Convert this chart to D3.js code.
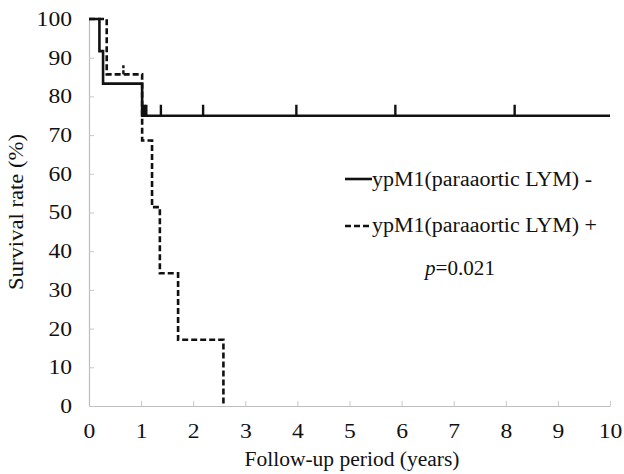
<!DOCTYPE html>
<html>
<head>
<meta charset="utf-8">
<script src="https://cdn.jsdelivr.net/npm/d3@7"></script>
<style>
  body { margin: 0; background: #fff; }
</style>
</head>
<body>
<svg id="chart" width="624" height="474"></svg>
<script>
// step curves (time in years, survival %)
const negTimes = [0, 0.2, 0.27, 1.02, 10]
const negSurv = [100, 91.7, 83.3, 75, 75]
const negCensor = [1.04, 1.07, 1.1, 1.38, 2.19, 3.98, 5.88, 8.17]

const posTimes = [0, 0.34, 1.02, 1.21, 1.36, 1.71, 2.58]
const posSurv = [100, 85.7, 68.6, 51.4, 34.3, 17.1, 0]
const posCensor = [0.66]

const xTicks = [0, 1, 2, 3, 4, 5, 6, 7, 8, 9, 10]
const yTicks = [0, 10, 20, 30, 40, 50, 60, 70, 80, 90, 100]

const FONT = "'Liberation Serif', 'Times New Roman', serif"

const svg = d3.select('#chart')
    .style('font-family', FONT)

const x = d3.scaleLinear().domain([0, 10]).range([89, 610])
const y = d3.scaleLinear().domain([0, 100]).range([406, 19])

//text in the source is a bit wider than Times, stretch it horizontally
const stretch = (sel, k) => sel.attr('textLength', function () { return this.getComputedTextLength() * k })
    .attr('lengthAdjust', 'spacingAndGlyphs')

// axes
const xAxis = svg.append('g')
    .attr('transform', `translate(0, ${y(0)})`)
    .call(d3.axisBottom(x).tickValues(xTicks).tickSizeInner(-5).tickSizeOuter(0).tickPadding(18))
const yAxis = svg.append('g')
    .attr('transform', `translate(${x(0)}, 0)`)
    .call(d3.axisLeft(y).tickValues(yTicks).tickSizeInner(-5).tickSizeOuter(0).tickPadding(17))

;[xAxis, yAxis].forEach(a => {
    a.attr('font-family', null).attr('font-size', null)
    a.select('.domain').attr('stroke', '#bdbdbd').attr('stroke-width', 1.2)
    a.selectAll('.tick line').attr('stroke', '#c8c8c8')
    a.selectAll('.tick text')
        .style('font-family', FONT)
        .style('font-size', '20px')
        .attr('fill', '#111')
        .call(stretch, 1.18)
})

//axis titles
svg.append('text')
    .attr('x', 352)
    .attr('y', 466)
    .style('font-family', FONT)
    .style('font-size', '20px')
    .attr('text-anchor', 'middle')
    .attr('fill', '#111')
    .attr('textLength', 215)
    .attr('lengthAdjust', 'spacingAndGlyphs')
    .text('Follow-up period (years)')

svg.append('text')
    .attr('transform', 'translate(23, 212) rotate(-90)')
    .style('font-family', FONT)
    .style('font-size', '20px')
    .attr('text-anchor', 'middle')
    .attr('fill', '#111')
    .attr('textLength', 156)
    .attr('lengthAdjust', 'spacingAndGlyphs')
    .text('Survival rate (%)')

// curves
const line = d3.line()
    .x(d => x(d[0]))
    .y(d => y(d[1]))
    .curve(d3.curveStepAfter)

const negData = negTimes.map((t, i) => [t, negSurv[i]])
const posData = posTimes.map((t, i) => [t, posSurv[i]])

svg.append('path')
    .datum(posData)
    .attr('fill', 'none')
    .attr('stroke', '#111')
    .attr('stroke-width', 2.6)
    .attr('stroke-dasharray', '6,3')
    .attr('d', line)

svg.append('path')
    .datum(negData)
    .attr('fill', 'none')
    .attr('stroke', '#111')
    .attr('stroke-width', 2.6)
    .attr('d', line)

// censor marks
const survAt = (times, surv, t) => {
    let s = surv[0]
    times.forEach((tt, i) => { if (tt <= t) s = surv[i] })
    return s
}

svg.selectAll('.cens-neg')
    .data(negCensor)
    .enter().append('line')
    .attr('class', 'cens-neg')
    .attr('x1', d => x(d)).attr('x2', d => x(d))
    .attr('y1', d => y(survAt(negTimes, negSurv, d)))
    .attr('y2', d => y(survAt(negTimes, negSurv, d)) - 11)
    .attr('stroke', '#111')
    .attr('stroke-width', 2.4)

svg.selectAll('.cens-pos')
    .data(posCensor)
    .enter().append('line')
    .attr('class', 'cens-pos')
    .attr('x1', d => x(d)).attr('x2', d => x(d))
    .attr('y1', d => y(survAt(posTimes, posSurv, d)))
    .attr('y2', d => y(survAt(posTimes, posSurv, d)) - 9)
    .attr('stroke', '#111')
    .attr('stroke-width', 2.4)
    .attr('stroke-dasharray', '4,2')

// legend
const legend = svg.append('g')
legend.append('line')
    .attr('x1', 345).attr('x2', 372).attr('y1', 179).attr('y2', 179)
    .attr('stroke', '#111').attr('stroke-width', 2.6)
legend.append('text')
    .attr('x', 372).attr('y', 186)
    .style('font-family', FONT)
    .style('font-size', '20px')
    .attr('fill', '#111')
    .attr('textLength', 220)
    .attr('lengthAdjust', 'spacingAndGlyphs')
    .text('ypM1(paraaortic LYM) -')
legend.append('line')
    .attr('x1', 345).attr('x2', 372).attr('y1', 226).attr('y2', 226)
    .attr('stroke', '#111').attr('stroke-width', 2.6)
    .attr('stroke-dasharray', '6,3')
legend.append('text')
    .attr('x', 372).attr('y', 232)
    .style('font-family', FONT)
    .style('font-size', '20px')
    .attr('fill', '#111')
    .attr('textLength', 225)
    .attr('lengthAdjust', 'spacingAndGlyphs')
    .text('ypM1(paraaortic LYM) +')

const pText = svg.append('text')
    .attr('x', 425).attr('y', 275)
    .style('font-family', FONT)
    .style('font-size', '20px')
    .attr('fill', '#111')
    .attr('textLength', 70)
    .attr('lengthAdjust', 'spacingAndGlyphs')
pText.append('tspan').attr('font-style', 'italic').text('p')
pText.append('tspan').text('=0.021')
</script>
</body>
</html>
